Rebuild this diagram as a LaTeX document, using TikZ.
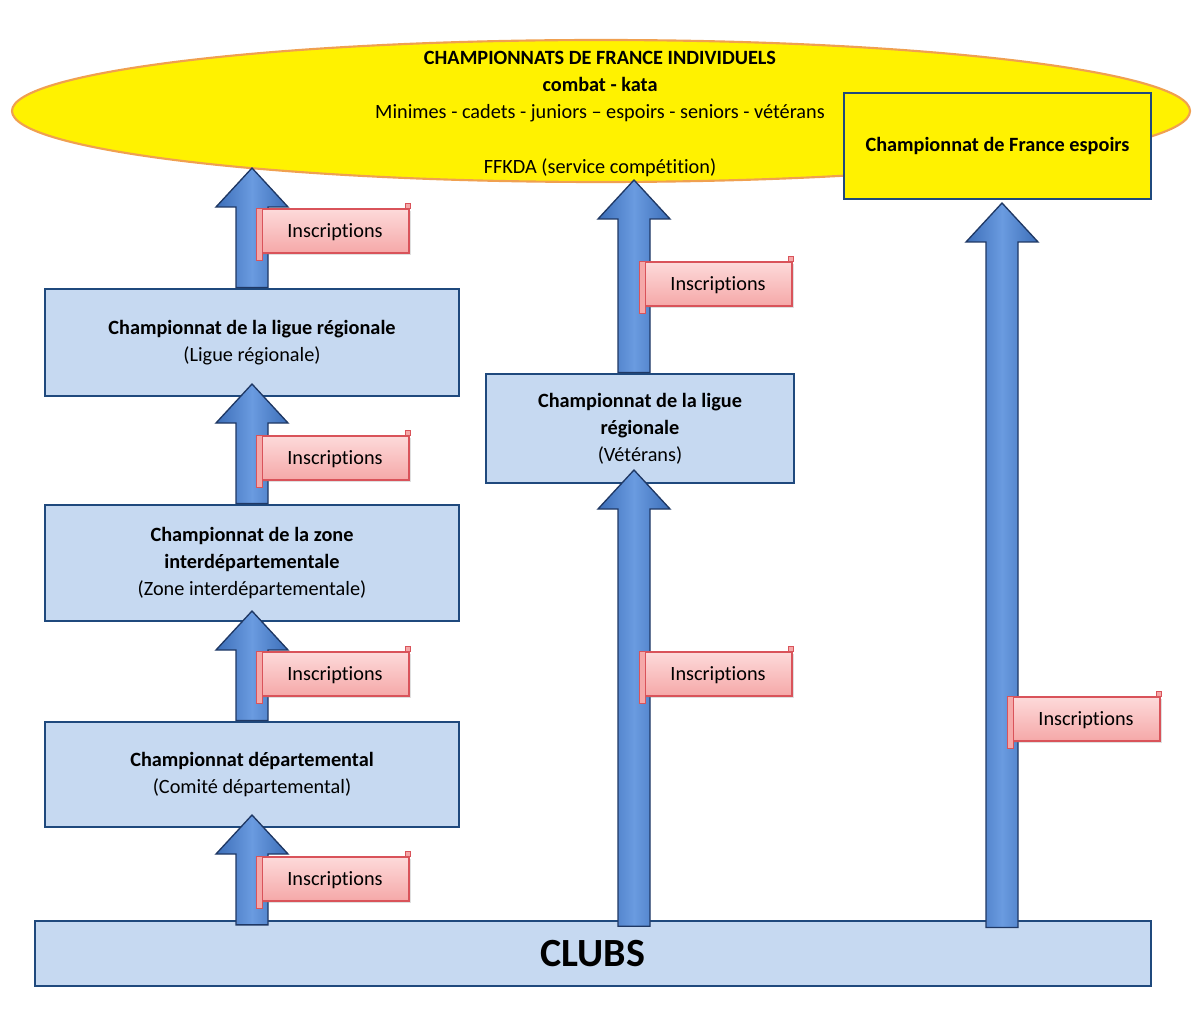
\documentclass[tikz,border=0pt]{standalone}
\usepackage{fontspec}
\setmainfont{Carlito}[Ligatures=NoCommon]
\usetikzlibrary{calc,shapes.geometric,shadows}
\definecolor{boxfill}{HTML}{C6D9F1}
\definecolor{boxline}{HTML}{1F497D}
\definecolor{arrowmid}{HTML}{6A9BE0}
\definecolor{arrowside}{HTML}{3C6EB8}
\definecolor{arrowline}{HTML}{1F3864}
\definecolor{scrolltop}{HTML}{FDDADA}
\definecolor{scrollbot}{HTML}{F5A8A8}
\definecolor{scrollline}{HTML}{D9535A}
\definecolor{ellline}{HTML}{F0A050}
\tikzset{
 stagebox/.style={draw=boxline, line width=2.2pt, fill=boxfill, align=center,
   font=\fontsize{15.2}{20.25}\selectfont, minimum width=310.5pt, inner sep=0pt},
 blockarrow/.style={draw=arrowline, line width=1pt, left color=arrowside,
   right color=arrowside, middle color=arrowmid, line join=miter},
 scrollbox/.style={draw=scrollline, line width=0.8pt, top color=scrolltop,
   bottom color=scrollbot, minimum width=111pt, minimum height=33pt,
   font=\fontsize{15.2}{18}\selectfont, inner sep=0pt, text depth=0pt,
   drop shadow={opacity=0.25, shadow xshift=1.5pt, shadow yshift=-1.5pt}},
 scrollroll/.style={draw=scrollline, line width=0.8pt, fill=scrollbot},
}
\newcommand\blockarr[2]{%
 \draw[blockarrow] let \p1=(#1), \p2=(#2) in
 (\x2-12pt,\y1) -- (\x2-12pt,\y2-29.25pt) -- (\x2-27pt,\y2-29.25pt) -- (\x2,\y2)
 -- (\x2+27pt,\y2-29.25pt) -- (\x2+12pt,\y2-29.25pt) -- (\x2+12pt,\y1) -- cycle;}
\newcommand\scrollat[3]{%
 \node[scrollbox] (#1) at (#2,#3) {Inscriptions};
 \draw[scrollroll] ([xshift=-3pt]#1.north west) rectangle ([xshift=1.5pt,yshift=-5pt]#1.south west);
 \draw[scrollroll] ([xshift=-3pt,yshift=4pt]#1.north east) rectangle ([xshift=1pt]#1.north east);
}
\begin{document}
\begin{tikzpicture}[x=0.75pt,y=-0.75pt]
\useasboundingbox[fill=white] (0,0) rectangle (1195,1023);
% top ellipse
\node[ellipse, draw=ellline, line width=1.6pt, fill=yellow, minimum width=883.5pt,
  minimum height=106.5pt, inner sep=0pt] (ell) at (601,111) {};
\node[align=center, font=\fontsize{15.2}{20.25}\selectfont] (elltext) at (600,113.5)
 {\textbf{CHAMPIONNATS DE FRANCE INDIVIDUELS}\\
  \textbf{combat - kata}\\
  Minimes - cadets - juniors – espoirs - seniors - vétérans\\[21pt]
  FFKDA (service compétition)};
% espoirs
\node[stagebox, fill=yellow, minimum width=230.25pt, minimum height=79.5pt,
  font=\fontsize{15.2}{20.25}\selectfont\bfseries] (esp) at (997.5,146)
 {Championnat de France espoirs};
% left column
\node[stagebox, minimum height=80.25pt] (lig) at (252,342.5)
 {\textbf{Championnat de la ligue régionale}\\(Ligue régionale)};
\node[stagebox, minimum height=87pt] (zone) at (252,563)
 {\textbf{Championnat de la zone}\\\textbf{interdépartementale}\\(Zone interdépartementale)};
\node[stagebox, minimum height=78.75pt] (dept) at (252,774.5)
 {\textbf{Championnat départemental}\\(Comité départemental)};
% middle
\node[stagebox, minimum width=231pt, minimum height=81.75pt] (vet) at (640,428.5)
 {\textbf{Championnat de la ligue}\\\textbf{régionale}\\(Vétérans)};
% clubs
\node[stagebox, minimum width=837pt, minimum height=48.75pt,
  font=\fontsize{30}{30}\selectfont\bfseries] (clubs) at (593,953.5) {CLUBS};
% arrow tips
\coordinate (t1) at (252,168);
\coordinate (t2) at (252,384);
\coordinate (t3) at (252,611);
\coordinate (t4) at (252,815);
\coordinate (m1) at (634,180);
\coordinate (m2) at (634,470);
\coordinate (r1) at (1002,203);
\blockarr{lig.north}{t1}
\blockarr{zone.north}{t2}
\blockarr{dept.north}{t3}
\blockarr{[yshift=-4pt]clubs.north}{t4}
\blockarr{vet.north}{m1}
\blockarr{[yshift=-5pt]clubs.north}{m2}
\blockarr{[yshift=-6pt]clubs.north}{r1}
% scrolls
\scrollat{s1}{335}{231}
\scrollat{s2}{335}{458}
\scrollat{s3}{335}{674}
\scrollat{s4}{335}{879}
\scrollat{s5}{718}{284}
\scrollat{s6}{718}{674}
\scrollat{s7}{1086}{719}
\end{tikzpicture}
\end{document}
